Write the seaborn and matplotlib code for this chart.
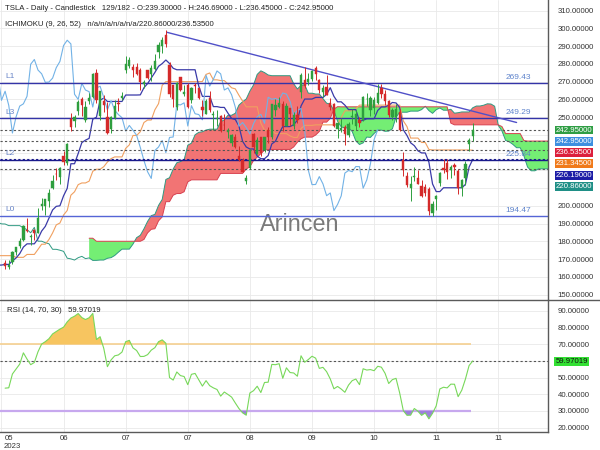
import numpy as np
import pandas as pd
import matplotlib
matplotlib.use("Agg")
import matplotlib.pyplot as plt
import matplotlib.transforms as mtransforms
from matplotlib.lines import Line2D
import seaborn as sns

sns.set_theme(style="white")
plt.rcParams['font.family'] = ['Liberation Sans', 'DejaVu Sans']

# ---------------- data ----------------
# history before the visible window (27 Feb - 12 May 2023), used by the indicators
pre_high = [209.42, 211.23, 207.20, 193.75, 200.48, 198.60, 194.20, 186.50, 185.18, 178.29,
            177.35, 183.80, 181.80, 185.81, 186.22, 186.44, 198.00, 200.66, 199.31, 190.96,
            197.39, 192.35, 195.29, 197.33, 207.79, 202.69, 198.74, 190.68, 191.58, 185.10,
            189.19, 191.59, 186.50, 186.57, 189.69, 187.69, 185.10, 169.70, 168.16, 165.45,
            163.72, 160.67, 160.48, 165.00, 163.28, 165.49, 165.00, 162.95, 170.79, 173.80,
            169.82, 174.43, 173.59, 169.90]
pre_low = [195.68, 203.75, 198.52, 186.01, 192.88, 192.30, 186.10, 180.00, 172.51, 168.44,
           163.91, 177.14, 176.30, 178.84, 177.33, 176.35, 188.04, 189.80, 188.65, 180.04,
           189.94, 185.43, 189.44, 194.42, 197.20, 192.20, 190.32, 183.76, 179.75, 176.11,
           185.65, 179.75, 180.33, 182.69, 182.69, 183.58, 176.55, 160.56, 161.50, 158.82,
           158.61, 152.37, 152.37, 157.32, 158.83, 158.93, 159.91, 159.65, 163.51, 169.19,
           166.56, 166.68, 168.57, 164.30]
pre_close = [207.63, 205.71, 202.77, 190.90, 197.79, 193.81, 187.71, 182.00, 172.92, 173.44,
             174.48, 183.26, 180.45, 184.13, 180.13, 183.25, 197.58, 191.15, 192.22, 190.41,
             191.81, 189.19, 193.88, 195.28, 207.46, 194.77, 192.58, 185.52, 185.06, 184.51,
             186.79, 180.54, 185.90, 185.00, 187.04, 184.31, 180.59, 162.99, 165.08, 162.55,
             160.67, 153.75, 160.19, 164.31, 161.83, 160.31, 160.61, 161.20, 170.06, 171.79,
             169.15, 168.54, 172.08, 167.98]

# visible candles (15 May - 15 Nov 2023)
opens = [167.66, 165.65, 168.41, 174.22, 177.17, 180.70, 186.20, 182.56, 186.54, 184.62, 200.10, 199.78,
         202.59, 210.15, 217.80, 216.14, 228.00, 224.22, 249.07, 247.94, 253.51, 260.17, 248.40, 258.92,
         261.50, 275.13, 250.77, 259.29, 250.07, 243.24, 249.70, 258.03, 260.60,
         276.49, 278.82, 278.09, 278.43, 276.47, 268.65, 276.33, 274.59, 277.01, 286.63, 290.15, 296.04,
         279.56, 268.00, 255.85, 272.38, 263.25, 268.31, 259.86, 267.48,
         266.26, 255.57, 252.04, 260.97, 251.45, 248.84, 250.87, 245.40, 241.77, 235.70, 238.73, 228.02,
         226.06, 214.12, 221.55, 240.25, 229.34, 238.66, 231.31, 242.58, 238.58, 254.20, 255.98,
         257.26, 245.00, 255.14, 245.07, 251.22, 264.27, 270.76, 270.07, 271.32, 277.55, 271.16, 264.35,
         267.04, 257.85, 257.40, 243.38, 242.98, 244.26, 240.02, 250.00,
         244.81, 248.61, 248.14, 260.00, 253.98, 255.31, 257.75, 266.20, 262.92, 258.90, 250.05, 250.10,
         252.70, 225.95, 217.01, 210.00, 216.50, 215.88, 211.32, 210.60, 209.28, 196.12,
         204.04, 212.97, 221.15, 223.98, 219.98, 223.15, 219.75, 210.03, 215.60, 235.03, 239.30]
highs = [169.76, 169.52, 174.50, 177.06, 181.95, 189.32, 192.96, 184.22, 186.78, 198.60, 204.48, 203.95,
         209.80, 217.25, 221.29, 221.91, 230.83, 235.23, 252.42, 250.97, 259.68, 261.57, 258.95, 263.60,
         274.75, 276.99, 265.00, 262.45, 258.37, 250.39, 259.88, 260.74, 264.45,
         284.25, 283.85, 279.97, 280.78, 277.52, 270.90, 276.52, 279.45, 285.30, 292.23, 295.26, 299.29,
         280.93, 268.00, 269.85, 272.90, 268.04, 269.13, 267.25, 269.08,
         266.47, 259.52, 260.49, 264.77, 253.65, 254.03, 251.10, 251.80, 243.79, 240.66, 240.50, 233.97,
         226.74, 217.58, 232.13, 240.82, 238.98, 238.92, 239.00, 244.38, 257.48, 260.51, 261.18,
         259.08, 258.00, 255.39, 252.81, 256.52, 274.85, 278.39, 274.98, 276.71, 278.98, 271.44, 267.85,
         273.93, 260.86, 257.79, 247.10, 249.55, 245.33, 247.55, 254.77,
         254.28, 250.02, 261.86, 263.60, 261.65, 261.36, 268.94, 268.60, 265.41, 259.60, 255.40, 257.18,
         254.63, 230.61, 218.86, 216.98, 222.05, 220.10, 214.80, 212.41, 210.88, 202.80,
         205.99, 219.20, 226.37, 226.32, 223.12, 224.15, 220.80, 215.38, 225.40, 238.14, 246.69]
lows = [164.55, 164.35, 167.19, 172.45, 176.31, 180.11, 185.26, 178.22, 180.58, 184.53, 197.53, 195.12,
        199.37, 209.75, 214.52, 212.53, 223.20, 223.01, 242.02, 244.59, 251.34, 250.50, 247.29, 257.21,
        261.07, 257.78, 248.25, 252.80, 240.70, 240.85, 248.89, 253.61, 259.89,
        275.11, 277.60, 272.88, 273.77, 265.10, 266.37, 271.46, 270.60, 276.31, 283.57, 286.01, 289.52,
        261.20, 255.80, 254.12, 265.00, 261.75, 255.30, 258.23, 263.78,
        260.25, 250.49, 252.00, 253.11, 242.76, 245.03, 241.90, 243.00, 238.02, 233.75, 232.61, 225.38,
        218.83, 212.36, 220.58, 229.55, 229.29, 228.18, 230.35, 235.35, 237.77, 250.59, 255.05,
        242.01, 244.86, 245.06, 243.27, 246.67, 260.61, 266.60, 268.10, 270.42, 271.00, 263.76, 261.20,
        262.46, 254.21, 244.48, 238.31, 241.66, 234.58, 238.65, 246.35,
        242.62, 244.45, 247.60, 256.25, 250.65, 252.05, 257.65, 260.90, 256.63, 250.22, 248.48, 247.08,
        242.08, 216.78, 210.42, 202.51, 214.11, 212.20, 204.88, 205.77, 194.67, 194.09,
        197.85, 211.45, 218.40, 215.00, 215.72, 217.64, 206.68, 205.69, 211.61, 230.72, 236.45]
closes = [166.35, 166.52, 173.86, 176.89, 180.14, 188.87, 185.77, 182.90, 184.47, 193.17, 201.16, 203.93,
          207.52, 213.97, 217.61, 221.31, 224.57, 234.86, 244.40, 249.83, 258.71, 256.79, 255.90, 260.54,
          274.45, 259.46, 264.61, 256.60, 241.05, 250.21, 256.24, 257.50, 261.77,
          279.82, 282.48, 276.54, 274.43, 269.61, 269.79, 271.99, 277.90, 281.38, 290.38, 293.34, 291.26,
          262.90, 260.02, 269.06, 265.28, 264.35, 255.71, 266.44, 267.43,
          261.07, 254.11, 259.32, 253.86, 251.45, 249.70, 242.19, 245.34, 242.65, 239.76, 232.96, 225.60,
          219.22, 215.49, 231.28, 233.19, 236.86, 230.04, 238.59, 238.82, 257.18, 256.90, 258.08,
          245.01, 256.49, 251.92, 251.49, 248.50, 273.58, 267.48, 271.30, 276.04, 274.39, 265.28, 266.50,
          262.59, 255.70, 244.88, 246.99, 244.12, 240.50, 246.38, 250.22,
          251.60, 246.53, 261.16, 260.05, 260.53, 259.67, 263.62, 262.99, 258.87, 251.12, 253.92, 254.85,
          242.68, 220.11, 211.99, 212.08, 216.52, 212.42, 205.76, 207.30, 197.36, 200.84,
          205.66, 218.51, 219.96, 219.27, 222.18, 222.11, 209.98, 214.65, 223.71, 237.41, 242.95]

tick_labels = ["05", "06", "07", "07", "08", "09", "10", "11", "11"]
tick_bars = [-1, 16, 33, 50, 67, 84, 101, 118, 135]

price_ticks = [150, 160, 170, 180, 190, 200, 250, 260, 270, 280, 290, 300, 310]
rsi_ticks = [20, 30, 40, 50, 70, 80, 90]

level_names = ["L1", "L3", "L2", "L0"]
level_values = [269.43, 249.29, 225.84, 194.47]
trend_x = [44.3, 140.0]
trend_y = [297.8, 247.0]

marker_values = [242.95, 242.95, 236.535, 231.345, 226.19, 220.86]
marker_colors = ["#2f9e44", "#3d8fe0", "#dc1f3c", "#f07a1a", "#1c1ca6", "#1f8f86"]
rsi_last = 59.97019

header1 = "TSLA - Daily - Candlestick   129/182 - O:239.30000 - H:246.69000 - L:236.45000 - C:242.95000"
header2 = "ICHIMOKU (9, 26, 52)   n/a/n/a/n/a/n/a/220.86000/236.53500"

# ---------------- indicators ----------------
n_pre = len(pre_high)
H = pd.Series(pre_high + highs)
L = pd.Series(pre_low + lows)
C = pd.Series(pre_close + closes)
idx = np.arange(len(H)) - n_pre

tenkan = (H.rolling(9).max() + L.rolling(9).min()) / 2
kijun = (H.rolling(26).max() + L.rolling(26).min()) / 2
span_a = (tenkan + kijun) / 2
span_b = (H.rolling(52).max() + L.rolling(52).min()) / 2

delta = C.diff()
gain = delta.clip(lower=0)
loss = -delta.clip(upper=0)
ag = gain.ewm(alpha=1 / 14, adjust=False, min_periods=14).mean()
al = loss.ewm(alpha=1 / 14, adjust=False, min_periods=14).mean()
rsi = 100 - 100 / (1 + ag / al)

# ---------------- figure ----------------
W, Hpx = 600, 450
fig = plt.figure(figsize=(6, 4.5), dpi=100)
fig.patch.set_facecolor("white")
ax = fig.add_axes([0, 1 - 300 / Hpx, 548 / W, 300 / Hpx])
ax2 = fig.add_axes([0, 1 - 431.5 / Hpx, 548 / W, 131.5 / Hpx], sharex=ax)

XMIN, XMAX = -1.4, 148.6
ax.set_xlim(XMIN, XMAX)
ax.set_ylim(147.0, 316.0)
ax2.set_ylim(17.6, 96.6)

grid_c = "#e9e9e9"
for a in (ax, ax2):
    a.set_facecolor("white")
    for s in ("left", "top"):
        a.spines[s].set_visible(False)
    a.spines["right"].set_color("#5a5a5a")
    a.spines["right"].set_linewidth(1.0)
    a.yaxis.tick_right()
    a.set_axisbelow(True)
ax.spines["bottom"].set_visible(False)
ax2.spines["bottom"].set_color("#5a5a5a")
ax2.spines["bottom"].set_linewidth(1.0)

# horizontal grid at every 10 units, labels only where the value boxes do not cover them
for v in range(150, 311, 10):
    ax.axhline(v, color=grid_c, lw=0.6, zorder=0.2)
for v in range(20, 91, 10):
    ax2.axhline(v, color=grid_c, lw=0.6, zorder=0.2)
ax.set_yticks(price_ticks)
ax.set_yticklabels([f"{v:.5f}" for v in price_ticks])
ax2.set_yticks(rsi_ticks)
ax2.set_yticklabels([f"{v:.5f}" for v in rsi_ticks])
for a in (ax, ax2):
    a.tick_params(axis="y", labelsize=5.6, length=0, pad=7, colors="#333333")
    a.grid(False)
    a.xaxis.grid(True, color=grid_c, lw=0.6)
ax.set_xticks(tick_bars)
ax.tick_params(axis="x", labelbottom=False, length=0)
ax2.set_xticklabels(tick_labels)
ax2.tick_params(axis="x", labelsize=5.6, length=2, width=0.6, pad=0.8, colors="#333333")
first = ax2.get_xticklabels()[0]
first.set_transform(first.get_transform() + mtransforms.ScaledTranslation(0.08, 0, fig.dpi_scale_trans))
fig.text(12 / W, 1 - 446.5 / Hpx, "2023", fontsize=5.6, color="#333333", ha="center", va="center")

# ---- cloud ----
xs = idx + 26
a_vals = span_a.values
b_vals = span_b.values
valid = ~np.isnan(b_vals)
ax.fill_between(xs[valid], a_vals[valid], b_vals[valid], where=a_vals[valid] >= b_vals[valid],
                interpolate=True, color="#f27474", lw=0, zorder=1)
ax.fill_between(xs[valid], a_vals[valid], b_vals[valid], where=a_vals[valid] < b_vals[valid],
                interpolate=True, color="#74ee74", lw=0, zorder=1)

m = (xs >= XMIN - 1) & ~np.isnan(a_vals)
sns.lineplot(x=xs[m], y=a_vals[m], ax=ax, color="#2f9a82", lw=0.7, estimator=None, sort=False, zorder=2)
sns.lineplot(x=xs[valid], y=b_vals[valid], ax=ax, color="#d8404f", lw=0.7, estimator=None, sort=False, zorder=2)

# ---- ichimoku lines ----
vis = idx >= -2
sns.lineplot(x=idx[vis], y=kijun.values[vis], ax=ax, color="#f0a060", lw=0.8, estimator=None, sort=False, zorder=2)
sns.lineplot(x=idx[vis], y=tenkan.values[vis], ax=ax, color="#3a3aa8", lw=0.9, estimator=None, sort=False, zorder=2)
xc = idx - 26
mc = xc >= -3
sns.lineplot(x=xc[mc], y=C.values[mc], ax=ax, color="#72b2e6", lw=0.8, estimator=None, sort=False, zorder=2)

# ---- levels ----
lev_colors = ["#3434a8", "#3434a8", "#1a1a8c", "#5565d6"]
for name, val, col in zip(level_names, level_values, lev_colors):
    ax.axhline(val, color=col, lw=1.0, zorder=2.2)
    ax.text(5 / 548 * (XMAX - XMIN) + XMIN, val + 1.6, name, fontsize=6, color="#6a86c8",
            va="bottom", ha="left", zorder=4)
    ax.text(140.5, val + 1.2, f"{val:.2f}", fontsize=6, color="#5f84cc", va="bottom", ha="center", zorder=4)

for val, col in zip(marker_values[1:], marker_colors[1:]):
    c = "#1a1a8c" if col == "#1c1ca6" else "#555555"
    ax.axhline(val, color=c, lw=0.8, ls=(0, (2, 2)), zorder=2.1)

ax.plot(trend_x, trend_y, color="#5050c8", lw=1.0, zorder=2.5)

# ---- candles ----
o = np.array(opens); h = np.array(highs); lo = np.array(lows); cl = np.array(closes)
xi = np.arange(len(o))
up = cl >= o
col = np.where(up, "#2e9e3e", "#d42a2a")
ax.vlines(xi, lo, h, colors=col, lw=0.7, zorder=3)
body = np.where(np.abs(cl - o) < 0.4, 0.4, cl - o)
ax.bar(xi, body, bottom=o, width=0.62, color=col, edgecolor=col, lw=0.3, zorder=3.1)

# watermark
ax.text(300 / 548, (300 - 231.5) / 300, "Arincen", transform=ax.transAxes, fontsize=16.8,
        color="#7a7a7a", ha="center", va="baseline", zorder=0.5)

# headers
fig.text(5 / W, 1 - 9 / Hpx, header1, fontsize=5.6, color="#222222", va="center", ha="left")
fig.text(5 / W, 1 - 25 / Hpx, header2, fontsize=5.6, color="#222222", va="center", ha="left")

# right-side value boxes
box_y = [130, 141.3, 152.6, 163.9, 175.2, 186.5]
for val, c, yy in zip(marker_values, marker_colors, box_y):
    fig.text(555.5 / W, 1 - yy / Hpx, f"{val:.5f}", fontsize=5.6, color="white", va="center", ha="left",
             bbox=dict(boxstyle="square,pad=0.12", fc=c, ec="none"))

# ---- RSI ----
mr = idx >= 0
sns.lineplot(x=idx[mr], y=rsi.values[mr], ax=ax2, color="#78d85a", lw=0.8, estimator=None, sort=False, zorder=3)
r = rsi.values[mr]
xr = idx[mr]
ax2.fill_between(xr, r, 70, where=r > 70, interpolate=True, color="#f7c560", lw=0, zorder=2)
ax2.fill_between(xr, r, 30, where=r < 30, interpolate=True, color="#9d80dc", lw=0, zorder=2)
ax2.hlines(70, XMIN, 127.5, color="#f5d090", lw=1.2, zorder=1.5)
ax2.hlines(30, XMIN, 127.5, color="#c7a8ee", lw=1.6, zorder=1.5)
ax2.axhline(rsi_last, color="#555555", lw=0.8, ls=(0, (2, 2)), zorder=1.6)
ax2.text(7 / 548, (431.5 - 311) / 131.5, f"RSI (14, 70, 30)   {rsi_last:.5f}", transform=ax2.transAxes,
         fontsize=5.6, color="#222222", va="center", ha="left")
fig.text(555.5 / W, 1 - 361.7 / Hpx, f"{rsi_last:.5f}", fontsize=5.6, color="#111111", va="center", ha="left",
         bbox=dict(boxstyle="square,pad=0.15", fc="#33e033", ec="none"))

# separator line between panels
fig.add_artist(Line2D([0, 1], [1 - 300 / Hpx] * 2, transform=fig.transFigure, color="#5a5a5a", lw=1.0))

for a in (ax, ax2):
    a.set_xlabel("")
    a.set_ylabel("")
    leg = a.get_legend()
    if leg:
        leg.remove()

fig.savefig("out.png", dpi=100, facecolor="white")
